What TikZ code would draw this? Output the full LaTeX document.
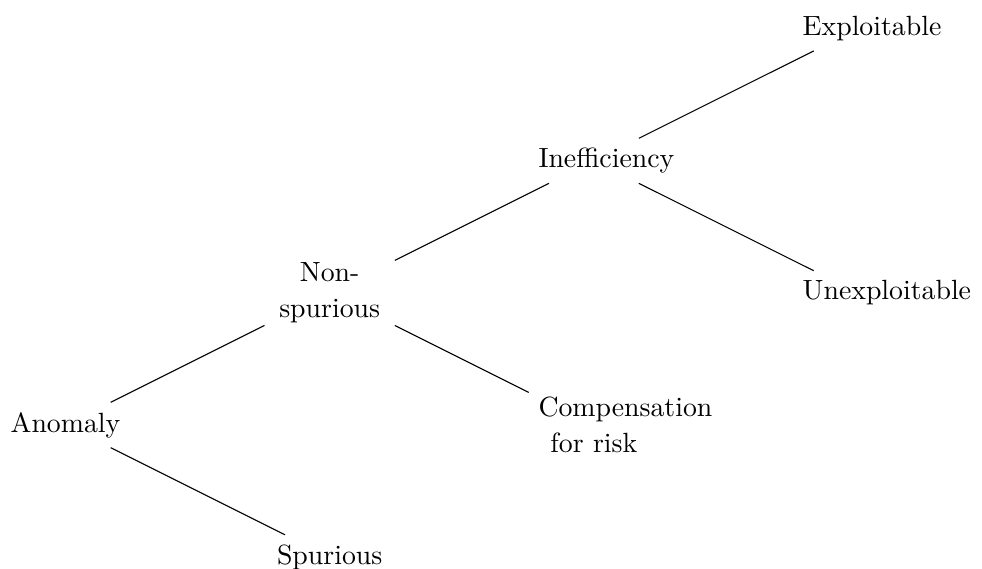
\documentclass[tikz,border=0pt]{standalone}
\begin{document}
\begin{tikzpicture}[
  scale=1.0,
  tnode/.style={text width=1.4cm, align=center, font=\fontsize{10}{13}\selectfont},
  edge/.style={draw=black}
]
  \useasboundingbox (-0.828,-1.808) rectangle (11.587,5.373);

  % Root
  \node[tnode] (anomaly) at (0, 0) {Anomaly};

  % First level
  \node[tnode] (nonspur) at (3.34, 1.67) {Non-\\spurious};
  \node[tnode] (spur) at (3.34, -1.67) {Spurious};

  % Second level
  \node[tnode] (ineff) at (6.68, 3.34) {Inefficiency};
  \node[tnode] (comp) at (6.68, 0) {Compensation\\for risk};

  % Third level
  \node[tnode] (expl) at (10.02, 5.01) {Exploitable};
  \node[tnode] (unexpl) at (10.02, 1.67) {Unexploitable};

  % Edges from the root
  \draw[edge] (anomaly) -- (nonspur);
  \draw[edge] (anomaly) -- (spur);

  % Edges from the non-spurious node
  \draw[edge] (nonspur) -- (ineff);
  \draw[edge] (nonspur) -- (comp);

  % Edges from the inefficiency node
  \draw[edge] (ineff) -- (expl);
  \draw[edge] (ineff) -- (unexpl);

\end{tikzpicture}
\end{document}
